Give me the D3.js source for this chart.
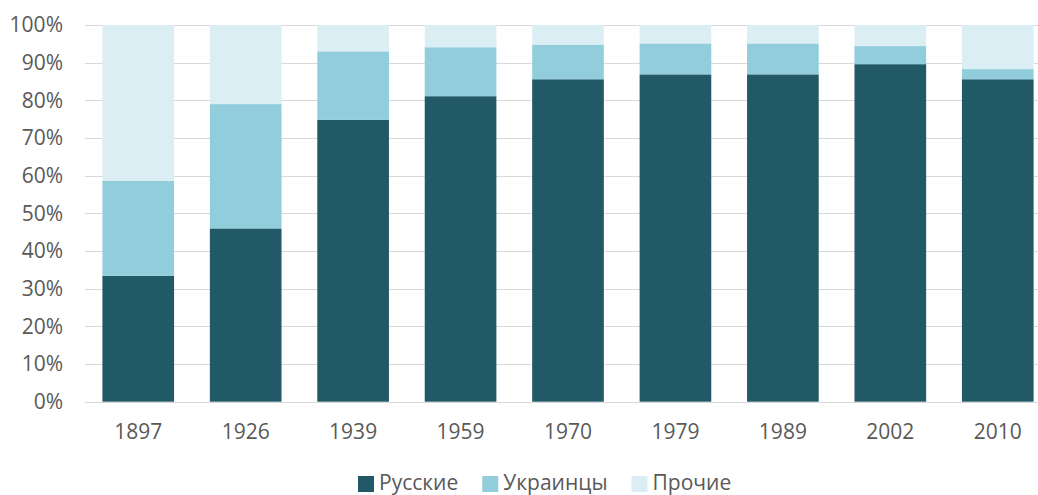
<!DOCTYPE html>
<html>
<head>
<meta charset="utf-8">
<script src="https://cdn.jsdelivr.net/npm/d3@7"></script>
<style>
  body { margin: 0; background: #fff; }
  text { font-family: "Open Sans", sans-serif; fill: #595959; }
</style>
</head>
<body>
<div id="chart"></div>
<script>
var width = 1038;
var height = 495;

var years = ["1897", "1926", "1939", "1959", "1970", "1979", "1989", "2002", "2010"];
var russian = [33.4, 46.0, 74.8, 81.1, 85.6, 86.9, 86.9, 89.6, 85.6];
var ukrainian = [25.2, 33.0, 18.2, 13.0, 9.2, 8.2, 8.2, 4.8, 2.7];
var other = [41.4, 21.0, 7.0, 5.9, 5.2, 4.9, 4.9, 5.6, 11.7];
var seriesNames = ["Русские", "Украинцы", "Прочие"];
var seriesColors = ["#215967", "#92cddc", "#daeef3"];

var table = years.map(function(y, i) {
    return {year: y, "Русские": russian[i], "Украинцы": ukrainian[i], "Прочие": other[i]};
});

var svg = d3.select("#chart").append("svg")
    .attr("width", width)
    .attr("height", height);

var x = d3.scaleBand()
    .domain(years)
    .range([84.5, 1051.5])
    .paddingInner(0.333)
    .paddingOuter(0.1667);

var y = d3.scaleLinear()
    .domain([0, 1])
    .range([401.7, 25]);

// gridlines
svg.append("g")
    .selectAll("line")
    .data(y.ticks(10))
    .enter().append("line")
    .attr("x1", 85)
    .attr("x2", 1052)
    .attr("y1", function(d) { return Math.round(y(d)) + 0.5; })
    .attr("y2", function(d) { return Math.round(y(d)) + 0.5; })
    .style("stroke", "#d9d9d9")
    .style("stroke-width", 1);

var stack = d3.stack()
    .keys(seriesNames)
    .offset(d3.stackOffsetExpand);

var layers = svg.append("g")
    .selectAll("g")
    .data(stack(table))
    .enter().append("g")
    .style("fill", function(d, i) { return seriesColors[i]; });

layers.selectAll("rect")
    .data(function(d) { return d; })
    .enter().append("rect")
    .attr("x", function(d) { return x(d.data.year); })
    .attr("width", x.bandwidth())
    .attr("y", function(d) { return y(d[1]); })
    .attr("height", function(d) { return y(d[0]) - y(d[1]); });

// y axis labels
var yAxis = svg.append("g")
    .attr("transform", "translate(71,0)")
    .call(d3.axisLeft(y).ticks(10).tickFormat(d3.format(".0%")).tickSize(0).tickPadding(8));
yAxis.select(".domain").remove();
yAxis.selectAll("text")
    .style("font-size", "21px")
    .style("fill", "#595959")
    .style("font-family", "'Open Sans', sans-serif");

// x axis labels
var xAxis = svg.append("g")
    .attr("transform", "translate(0,401.7)")
    .call(d3.axisBottom(x).tickSize(0).tickPadding(22));
xAxis.select(".domain").remove();
xAxis.selectAll("text")
    .style("font-size", "21px")
    .style("fill", "#595959")
    .style("font-family", "'Open Sans', sans-serif");

// legend
var legend = svg.append("g").attr("transform", "translate(0,490)");
var lx = 358;
seriesNames.forEach(function(name, i) {
    legend.append("rect")
        .attr("x", lx)
        .attr("y", -14)
        .attr("width", 16)
        .attr("height", 16)
        .style("fill", seriesColors[i]);
    var t = legend.append("text")
        .attr("x", lx + 21)
        .attr("y", 0)
        .style("font-size", "21px")
        .text(name);
    lx += 21 + t.node().getComputedTextLength() + 24;
});
</script>
</body>
</html>
